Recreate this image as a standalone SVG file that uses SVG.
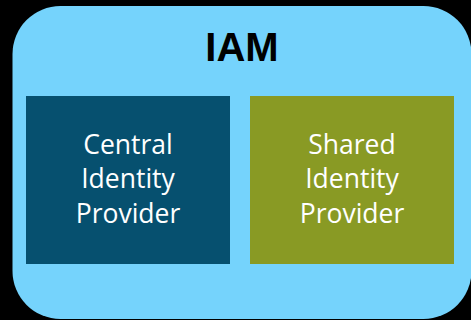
<svg xmlns="http://www.w3.org/2000/svg" width="471" height="320" viewBox="0 0 471 320">
<style>
.lbl{font-family:"Open Sans","Liberation Sans",sans-serif;font-size:26.5px;fill:#ffffff;text-anchor:middle}
.title{font-family:"Liberation Sans",Arial,sans-serif;font-weight:bold;font-size:40px;fill:#000000;text-anchor:middle}
</style>
<rect x="0" y="0" width="471" height="320" fill="#000000"/>
<g id="iam">
<rect x="12.5" y="6" width="459" height="313" rx="48" ry="48" fill="#75D3FC"/>
<text class="title" x="242" y="61">IAM</text>
</g>
<g id="central">
<rect x="26" y="96" width="204" height="168" fill="#06506F"/>
<text class="lbl" x="128" y="154">Central</text>
<text class="lbl" x="128" y="188">Identity</text>
<text class="lbl" x="128" y="223">Provider</text>
</g>
<g id="shared">
<rect x="250" y="96" width="204" height="168" fill="#899A24"/>
<text class="lbl" x="352" y="154">Shared</text>
<text class="lbl" x="352" y="188">Identity</text>
<text class="lbl" x="352" y="223">Provider</text>
</g>
<g id="connectors"></g>
</svg>
